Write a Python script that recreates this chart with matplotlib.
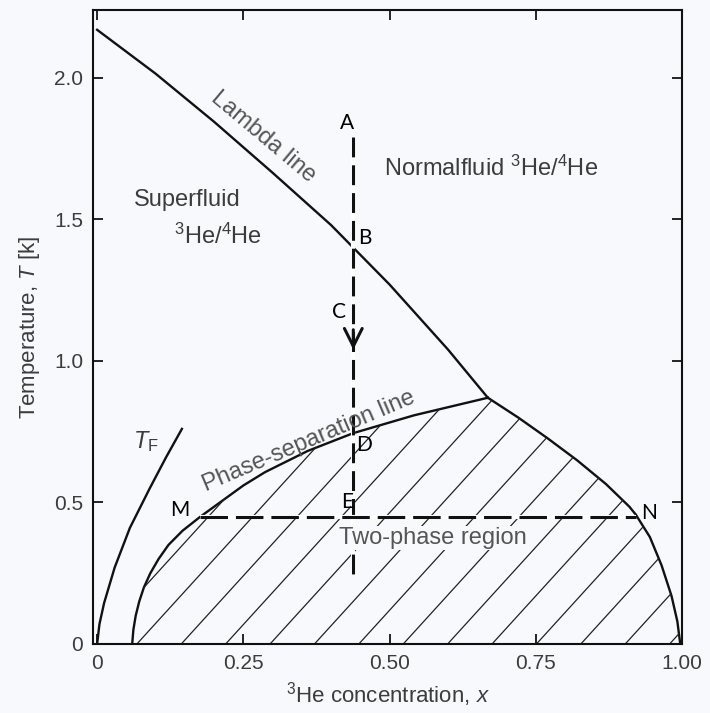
import numpy as np
import matplotlib
matplotlib.use('Agg')
import matplotlib.pyplot as plt
from matplotlib.patches import Polygon

plt.rcParams['font.family'] = ['Liberation Sans', 'DejaVu Sans']
plt.rcParams['mathtext.fontset'] = 'custom'
plt.rcParams['mathtext.rm'] = 'Liberation Sans'
plt.rcParams['mathtext.it'] = 'Liberation Sans:italic'

# lambda line (superfluid transition), x = 3He fraction, T in K
lambda_x = [0.0, 0.1, 0.2, 0.3, 0.4, 0.5, 0.6, 0.668]
lambda_T = [2.17, 2.015, 1.845, 1.665, 1.48, 1.27, 1.04, 0.87]

# phase-separation line, left (4He rich) and right (3He rich) branches
sep_left_x = [0.06, 0.062, 0.066, 0.072, 0.08, 0.091, 0.105, 0.122, 0.146, 0.176,
              0.21, 0.25, 0.287, 0.36, 0.438, 0.542, 0.668]
sep_left_T = [0.0, 0.05, 0.10, 0.15, 0.20, 0.25, 0.30, 0.35, 0.40, 0.449,
              0.50, 0.56, 0.607, 0.682, 0.745, 0.808, 0.87]
sep_right_x = [0.668, 0.72, 0.77, 0.82, 0.87, 0.91, 0.921, 0.945, 0.965, 0.982, 0.992, 0.997]
sep_right_T = [0.87, 0.80, 0.727, 0.65, 0.565, 0.485, 0.457, 0.378, 0.278, 0.17, 0.08, 0.0]

# Fermi temperature curve
tf_x = [0.0, 0.004, 0.012, 0.03, 0.056, 0.09, 0.118, 0.145]
tf_T = [0.0, 0.07, 0.145, 0.27, 0.41, 0.55, 0.66, 0.76]

# cooling path A -> E and tie line M-N
path_x = 0.438
path_T = [1.79, 0.245]
tie_T = 0.45
tie_x = [0.176, 0.921]

xticks = [0, 0.25, 0.5, 0.75, 1.0]
xticklabels = ['0', '0.25', '0.50', '0.75', '1.00']
yticks = [0, 0.5, 1.0, 1.5, 2.0]
yticklabels = ['0', '0.5', '1.0', '1.5', '2.0']

bg = '#f8f9fc'
ink = '#111111'
grey = '#3c3c3c'

fig = plt.figure(figsize=(7.1, 7.13), dpi=100, facecolor=bg)
ax = fig.add_axes([0.131, 0.0968, 0.8296, 0.8892], facecolor=bg)
ax.set_xlim(-0.007, 1.0)
ax.set_ylim(0, 2.24)

# curves
ax.plot(lambda_x, lambda_T, color=ink, lw=1.7)
ax.plot(sep_left_x, sep_left_T, color=ink, lw=1.7)
ax.plot(sep_right_x, sep_right_T, color=ink, lw=1.7)
ax.plot(tf_x, tf_T, color=ink, lw=1.7)

# hatching of the two-phase region, clipped to the dome
dome = Polygon(np.column_stack([sep_left_x + sep_right_x[1:], sep_left_T + sep_right_T[1:]]),
               closed=True, fc='none', ec='none')
ax.add_patch(dome)
hatch_slope = 2.27
for c in 0.068 + 0.0759 * np.arange(-3, 14):
    ln, = ax.plot([c, c + 1.0], [0, hatch_slope], color='#222222', lw=0.9)
    ln.set_clip_path(dome)

# dashed paths with light gaps
ax.plot([path_x, path_x], path_T, color='white', lw=3, solid_capstyle='butt')
ax.plot([path_x, path_x], path_T, color=ink, lw=2.2, dashes=(6.5, 2.6))
ax.plot(tie_x, [tie_T, tie_T], color='white', lw=3, solid_capstyle='butt')
ax.plot(tie_x, [tie_T, tie_T], color=ink, lw=2.2, dashes=(9, 2.6))
ax.annotate('', xy=(path_x, 1.03), xytext=(path_x, 1.12),
            arrowprops=dict(arrowstyle='->', lw=2.2, color=ink, mutation_scale=32))

# region / line labels
ax.text(0.154, 1.569, 'Superfluid', fontsize=17, color=grey, ha='center', va='center')
ax.text(0.207, 1.44, r'$^{3}$He/$^{4}$He', fontsize=17, color=grey, ha='center', va='center')
ax.text(0.673, 1.68, r'Normalfluid $^{3}$He/$^{4}$He', fontsize=17, color=grey,
        ha='center', va='center')
ax.text(0.284, 1.79, 'Lambda line', fontsize=17, color='#555555', rotation=-40,
        ha='center', va='center')
ax.text(0.362, 0.716, 'Phase-separation line', fontsize=17, color='#555555', rotation=23,
        ha='center', va='center')
ax.text(0.574, 0.375, 'Two-phase region', fontsize=17, color='#555555', ha='center', va='center',
        bbox=dict(fc=bg, ec='none', pad=0.5))
ax.text(0.083, 0.714, r'$T_\mathrm{F}$', fontsize=17, color=grey, ha='center', va='center')

# point labels
pts = {'A': (0.427, 1.84), 'B': (0.458, 1.435), 'C': (0.413, 1.173), 'D': (0.457, 0.703),
       'E': (0.427, 0.50), 'M': (0.142, 0.473), 'N': (0.944, 0.463)}
for name, (px, py) in pts.items():
    ax.text(px, py, name, fontsize=15, family=['Lato', 'DejaVu Sans'], color='black',
            ha='center', va='center')

# axes styling
ax.set_xticks(xticks)
ax.set_xticklabels(xticklabels)
ax.set_yticks(yticks)
ax.set_yticklabels(yticklabels)
ax.tick_params(direction='in', length=7, width=1.2, top=True, right=True,
               labelsize=15, labelcolor=grey, pad=7)
for s in ax.spines.values():
    s.set_linewidth(1.5)
    s.set_color(ink)
ax.set_xlabel(r'$^{3}$He concentration, $x$', fontsize=16, color=grey, labelpad=5)
ax.set_ylabel(r'Temperature, $T$ [k]', fontsize=16, color=grey, labelpad=9)

fig.savefig('out.png', dpi=100, facecolor=bg)
